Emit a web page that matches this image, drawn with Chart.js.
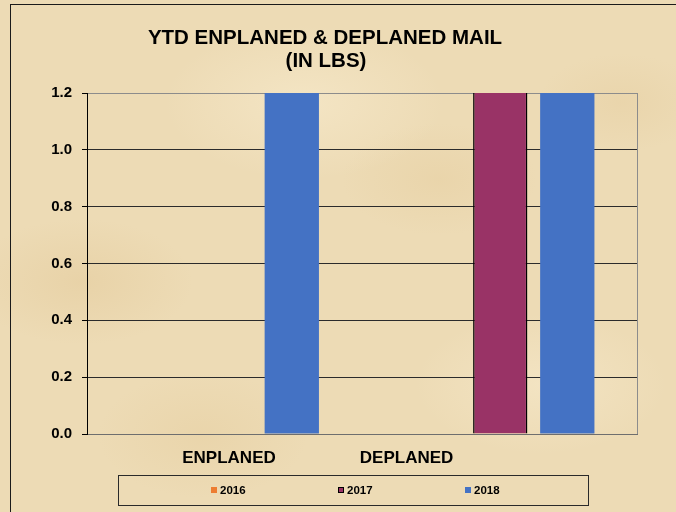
<!DOCTYPE html>
<html>
<head>
<meta charset="utf-8">
<script src="https://cdn.jsdelivr.net/npm/chart.js@4/dist/chart.umd.min.js"></script>
<style>
  html, body { margin: 0; padding: 0; }
  body {
    width: 676px; height: 512px; overflow: hidden;
    background-color: #eddbb5;
    background-image:
      radial-gradient(ellipse 160px 90px at 12% 55%, rgba(215,180,120,0.22), transparent 70%),
      radial-gradient(ellipse 200px 110px at 45% 20%, rgba(250,238,210,0.5), transparent 70%),
      radial-gradient(ellipse 180px 100px at 80% 75%, rgba(250,238,210,0.45), transparent 70%),
      radial-gradient(ellipse 140px 80px at 65% 35%, rgba(220,188,130,0.2), transparent 70%),
      radial-gradient(ellipse 150px 90px at 30% 85%, rgba(220,188,130,0.2), transparent 70%),
      radial-gradient(ellipse 120px 70px at 92% 20%, rgba(222,192,138,0.22), transparent 70%);
  }
  #wrap { position: relative; width: 676px; height: 512px; }
</style>
</head>
<body>
<div id="wrap"><canvas id="chart1" width="676" height="512"></canvas></div>
<script>
// data
let categories = ['ENPLANED', 'DEPLANED'];
let years = ['2016', '2017', '2018'];
let mail2016 = [0, 0];
let mail2017 = [0, 1.5];
let mail2018 = [1.5, 1.5];
let yTicks = [0, 0.2, 0.4, 0.6, 0.8, 1.0, 1.2];
let titleLines = ['YTD ENPLANED & DEPLANED MAIL', '(IN LBS)'];

const FONT = 'Arial, "Liberation Sans", sans-serif';

// x positions (in category units) where excel put the axis labels
const labelSpots = [0.0154, 0.66];

const decor = {
  id: 'decor',
  afterDraw(chart) {
    const ctx = chart.ctx;
    const a = chart.chartArea;
    ctx.save();
    // outer frame
    ctx.strokeStyle = '#1a1a1a';
    ctx.lineWidth = 1;
    ctx.strokeRect(10.5, 4.5, 800, 600);
    // plot right border
    ctx.strokeStyle = '#8c8c8c';
    ctx.beginPath();
    ctx.moveTo(Math.round(a.right) - 0.5, a.top);
    ctx.lineTo(Math.round(a.right) - 0.5, a.bottom);
    ctx.stroke();
    // title
    ctx.fillStyle = '#000';
    ctx.font = 'bold 20.5px ' + FONT;
    ctx.textAlign = 'center';
    ctx.textBaseline = 'middle';
    ctx.fillText(titleLines[0], 325, 38);
    ctx.fillText(titleLines[1], 326, 61);
    // legend box
    ctx.strokeStyle = '#2a2a2a';
    ctx.strokeRect(118.5, 475.5, 470, 30);
    ctx.font = 'bold 11.5px ' + FONT;
    ctx.textAlign = 'left';
    chart.data.datasets.forEach((ds, i) => {
      const x = 211 + i * 127;
      ctx.fillStyle = ds.backgroundColor;
      ctx.fillRect(x, 487, 6, 6);
      if (ds.borderWidth) {
        ctx.strokeStyle = '#000';
        ctx.strokeRect(x + 0.5, 487.5, 5, 5);
      }
      ctx.fillStyle = '#000';
      ctx.fillText(ds.label, x + 9, 490.5);
    });
    ctx.restore();
  }
};

const data = {
  labels: categories,
  datasets: [
    { label: years[0], data: mail2016, backgroundColor: '#ED7D31', borderWidth: 0 },
    { label: years[1], data: mail2017, backgroundColor: '#993366', borderColor: '#000', borderWidth: 1.5 },
    { label: years[2], data: mail2018, backgroundColor: '#4472C4', borderWidth: 0 }
  ]
};

const config = {
  type: 'bar',
  data: data,
  options: {
    responsive: false,
    animation: false,
    devicePixelRatio: 1,
    layout: { padding: { top: 93, right: 38, bottom: 38, left: 0 } },
    datasets: { bar: { categoryPercentage: 0.73, barPercentage: 0.81 } },
    plugins: { legend: { display: false }, title: { display: false }, tooltip: { enabled: false } },
    scales: {
      x: { display: false },
      x2: {
        type: 'linear', position: 'bottom', min: -0.5, max: 1.5, offset: false,
        grid: { display: false, drawTicks: false, offset: false },
        border: { display: false },
        afterBuildTicks: s => { s.ticks = labelSpots.map(v => ({ value: v })); },
        afterFit: s => { s.height = 40; },
        ticks: {
          autoSkip: false, maxRotation: 0, padding: 14,
          color: '#000', font: { family: FONT, size: 17, weight: 'bold' },
          callback: (v, i) => categories[i]
        }
      },
      y: {
        min: 0, max: 1.2,
        afterBuildTicks: s => { s.ticks = yTicks.map(v => ({ value: v })); },
        afterFit: s => { s.width = 87; },
        border: { display: true, color: '#000', width: 1 },
        grid: {
          color: c => c.tick && c.tick.value >= 1.2 ? '#8c8c8c' : (c.tick && c.tick.value === 0 ? '#6e6e6e' : '#2b2b2b'),
          tickColor: '#000', tickLength: 5, lineWidth: 1
        },
        ticks: {
          padding: 10, color: '#000',
          font: { family: FONT, size: 15, weight: 'bold' },
          callback: v => v.toFixed(1)
        }
      }
    }
  },
  plugins: [decor]
};

const myChart = new Chart(document.getElementById('chart1'), config);
</script>
</body>
</html>
